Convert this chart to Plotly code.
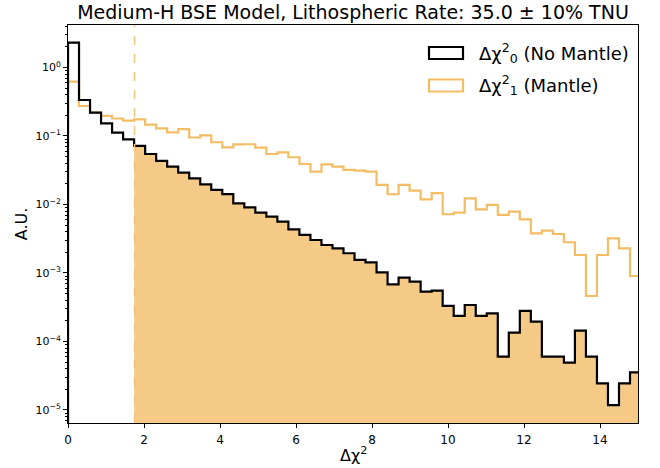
import numpy as np
import plotly.graph_objects as go

# ---- data ----
bin_width = 0.29
n_bins = 52
no_mantle = [2.30, 0.335, 0.219, 0.153, 0.112, 0.0894, 0.0715, 0.0546, 0.0432, 0.0356,
             0.0291, 0.0241, 0.0197, 0.0163, 0.0142, 0.0104, 0.0091, 0.0076, 0.00664, 0.00561,
             0.00434, 0.00359, 0.00303, 0.00256, 0.00229, 0.00194, 0.00155, 0.00143, 0.00102, 0.000684,
             0.000855, 0.000747, 0.000533, 0.000552, 0.00033, 0.000236, 0.000341, 0.000236, 0.000258, 6.0e-5,
             0.000135, 0.000279, 0.000195, 6.0e-5, 6.0e-5, 4.9e-5, 0.000144, 6.0e-5, 2.45e-5, 1.18e-5,
             2.45e-5, 3.55e-5]
mantle = [0.621, 0.274, 0.219, 0.196, 0.180, 0.167, 0.175, 0.146, 0.129, 0.113,
          0.126, 0.095, 0.102, 0.081, 0.068, 0.0756, 0.0757, 0.0675, 0.0546, 0.0578,
          0.0489, 0.039, 0.0301, 0.0386, 0.0356, 0.0319, 0.0312, 0.0301, 0.0193, 0.0141,
          0.0193, 0.0159, 0.0119, 0.0146, 0.0072, 0.0076, 0.0123, 0.0085, 0.00984, 0.00703,
          0.00785, 0.00608, 0.00379, 0.00415, 0.00371, 0.00281, 0.00183, 0.000461, 0.00183, 0.00321,
          0.00229, 0.000904]
threshold = 1.75
title = "Medium-H BSE Model, Lithospheric Rate: 35.0 ± 10% TNU"
label0 = "Δχ<sup>2</sup><sub>0</sub> (No Mantle)"
label1 = "Δχ<sup>2</sup><sub>1</sub> (Mantle)"
x_title = "Δχ<sup>2</sup>"
x_ticks = [0, 2, 4, 6, 8, 10, 12, 14]
y_tick_exps = [0, -1, -2, -3, -4, -5]

edges = np.arange(n_bins + 1) * bin_width
floor = 1e-7

BLACK = "#000000"
ORANGE = "#F2BD63"
FILL = "#F5CA87"
FONT = "DejaVu Sans"


def step_xy(vals):
    xs = [edges[0]] + list(edges[:len(vals)]) + [edges[len(vals)], edges[len(vals)]]
    ys = [floor] + list(vals) + [vals[-1], floor]
    return xs, ys


fig = go.Figure()

# filled region under no-mantle curve beyond the threshold
i0 = int(round(threshold / bin_width))
fx = [edges[i0]] + list(edges[i0:n_bins]) + [edges[n_bins], edges[n_bins]]
fy = [floor] + no_mantle[i0:] + [no_mantle[-1], floor]
fig.add_trace(go.Scatter(x=fx, y=fy, mode="lines", line=dict(width=0, shape="hv"),
                         fill="toself", fillcolor=FILL, hoverinfo="skip", showlegend=False))

fig.add_shape(type="line", x0=threshold, x1=threshold, y0=0, y1=1, xref="x", yref="paper",
              line=dict(color="#F4C47C", width=1.5, dash="dash"))

x1, y1 = step_xy(mantle)
fig.add_trace(go.Scatter(x=x1, y=y1, mode="lines", line=dict(color=ORANGE, width=2.2, shape="hv"),
                         showlegend=False))
x0, y0 = step_xy(no_mantle)
fig.add_trace(go.Scatter(x=x0, y=y0, mode="lines", line=dict(color=BLACK, width=2.2, shape="hv"),
                         showlegend=False))

# legend (manual)
L, T, W, H = 68, 25, 570, 398
def px(xp):
    return (xp - L) / W
def py(yp):
    return (T + H - yp) / H

for (yt, col, lab) in [(53, BLACK, label0), (85.5, ORANGE, label1)]:
    fig.add_shape(type="rect", xref="paper", yref="paper",
                  x0=px(429), x1=px(463), y0=py(yt - 6), y1=py(yt + 6),
                  line=dict(color=col, width=2.2), fillcolor="rgba(0,0,0,0)")
    fig.add_annotation(xref="paper", yref="paper", x=px(477), y=py(yt), text=lab,
                       showarrow=False, xanchor="left", yanchor="middle",
                       font=dict(family=FONT, size=18, color="black"))

# x-axis title
fig.add_annotation(xref="paper", yref="paper", x=0.5, y=py(454), text=x_title,
                   showarrow=False, xanchor="center", yanchor="middle",
                   font=dict(family=FONT, size=16, color="black"))

minor_vals = []
for e in range(-6, 1):
    for m in range(2, 10):
        minor_vals.append(m * 10.0 ** e)

fig.update_layout(
    width=660, height=468,
    margin=dict(l=L, r=660 - L - W, t=T, b=468 - T - H, autoexpand=False),
    paper_bgcolor="white", plot_bgcolor="white",
    font=dict(family=FONT, color="black"),
    title=dict(text=title, x=0.5, xref="paper", xanchor="center",
               y=1 - 12.5 / 468, yref="container", yanchor="middle",
               font=dict(family=FONT, size=19, color="black")),
    showlegend=False,
)
fig.update_xaxes(range=[0, 15], showgrid=False, zeroline=False, automargin=False,
                 showline=True, linecolor="black", linewidth=1, mirror=True,
                 ticks="outside", ticklen=4, tickcolor="black",
                 tickvals=x_ticks, ticktext=[str(v) for v in x_ticks],
                 tickfont=dict(family=FONT, size=12), ticklabelstandoff=2)
fig.update_yaxes(type="log", range=[-5.19, 0.62], showgrid=False, zeroline=False, automargin=False,
                 showline=True, linecolor="black", linewidth=1, mirror=True,
                 ticks="outside", ticklen=4, tickcolor="black",
                 tickvals=[10.0 ** e for e in y_tick_exps],
                 ticktext=["10<sup>%s</sup>" % (str(e).replace("-", "−")) for e in y_tick_exps],
                 tickfont=dict(family=FONT, size=11),
                 minor=dict(tickvals=minor_vals, ticks="outside", ticklen=2, tickcolor="black",
                            showgrid=False),
                 title=dict(text="A.U.", font=dict(family=FONT, size=16), standoff=3))

fig.write_html("out.html")
